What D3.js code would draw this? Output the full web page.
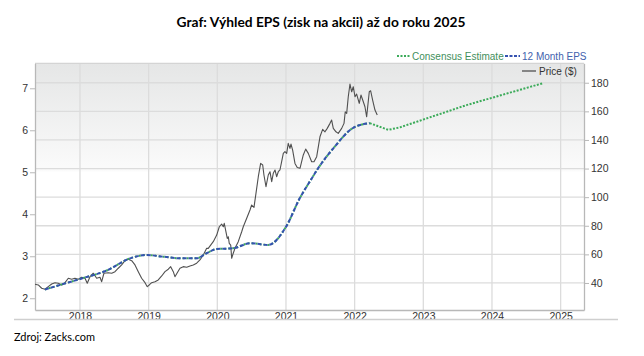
<!DOCTYPE html>
<html>
<head>
<meta charset="utf-8">
<script src="https://cdn.jsdelivr.net/npm/d3@7"></script>
<style>
  html, body { margin: 0; padding: 0; background: #fff; }
  svg { display: block; }
</style>
</head>
<body>
<svg id="chart" width="644" height="356"></svg>
<script>
// ---- data ----
const titleText = "Graf: Výhled EPS (zisk na akcii) až do roku 2025";
const sourceText = "Zdroj: Zacks.com";
const yearTicks = [2018, 2019, 2020, 2021, 2022, 2023, 2024, 2025];
const epsTicks = [2, 3, 4, 5, 6, 7];
const priceTicks = [40, 60, 80, 100, 120, 140, 160, 180];

const priceDates = [2017.345,2017.393,2017.442,2017.490,2017.538,2017.588,2017.636,2017.684,2017.734,2017.782,2017.830,2017.879,2017.927,2017.975,2018.025,2018.073,2018.106,2018.146,2018.194,2018.243,2018.291,2018.316,2018.349,2018.412,2018.462,2018.510,2018.558,2018.607,2018.655,2018.703,2018.753,2018.801,2018.849,2018.898,2018.947,2018.980,2019.009,2019.044,2019.092,2019.140,2019.190,2019.238,2019.286,2019.321,2019.359,2019.383,2019.417,2019.456,2019.504,2019.554,2019.602,2019.650,2019.699,2019.747,2019.796,2019.845,2019.868,2019.941,2019.991,2020.029,2020.063,2020.087,2020.101,2020.126,2020.145,2020.160,2020.174,2020.195,2020.209,2020.232,2020.257,2020.305,2020.355,2020.378,2020.428,2020.476,2020.500,2020.534,2020.563,2020.597,2020.631,2020.661,2020.679,2020.709,2020.742,2020.767,2020.792,2020.815,2020.840,2020.864,2020.888,2020.912,2020.937,2020.961,2020.985,2021.010,2021.033,2021.058,2021.073,2021.097,2021.131,2021.164,2021.204,2021.252,2021.287,2021.325,2021.374,2021.408,2021.447,2021.495,2021.534,2021.568,2021.601,2021.641,2021.665,2021.689,2021.728,2021.761,2021.811,2021.845,2021.863,2021.884,2021.907,2021.932,2021.957,2021.980,2022.005,2022.029,2022.067,2022.092,2022.126,2022.150,2022.175,2022.190,2022.213,2022.233,2022.262,2022.296,2022.329];
const priceValues = [39.1,38.6,36.3,35.6,37.4,39.3,40.2,39.8,38.6,40.2,43.3,42.6,43.3,42.6,44.0,43.3,39.8,44.4,46.8,43.3,44.0,40.9,46.8,47.2,46.8,47.9,50.3,52.6,55.6,56.6,55.6,52.6,47.9,43.3,40.2,37.4,38.6,40.2,40.9,42.1,44.9,47.9,49.6,51.4,47.9,44.4,47.2,50.3,51.4,51.0,51.9,52.6,53.8,56.1,59.6,64.2,64.2,68.9,73.5,79.3,81.2,79.3,81.7,75.8,71.2,72.3,67.7,66.5,57.3,60.8,64.2,68.9,75.8,79.3,85.2,91.0,94.5,92.9,102.7,114.3,123.6,122.5,115.5,107.3,115.5,117.8,110.8,116.7,119.0,114.3,117.8,119.0,124.8,130.6,131.8,130.6,137.6,134.1,137.1,132.9,123.6,120.8,120.2,129.5,133.6,130.6,124.8,124.8,128.3,142.2,147.4,145.7,148.1,151.6,153.9,148.1,145.7,144.6,148.1,151.6,159.7,158.6,170.2,179.1,173.7,177.2,170.2,172.1,165.6,171.4,166.7,163.2,156.2,163.2,173.7,174.4,167.9,160.9,157.4];

const epsDates = [2017.49, 2018.0, 2018.39, 2018.73, 2018.97, 2019.21, 2019.46, 2019.70, 2019.84, 2019.99, 2020.23, 2020.48, 2020.74, 2021.0, 2021.2, 2021.37, 2021.47, 2021.69, 2021.98, 2022.22];
const epsValues = [2.21, 2.46, 2.66, 2.95, 3.03, 2.99, 2.95, 2.95, 3.07, 3.17, 3.19, 3.31, 3.27, 3.70, 4.38, 4.84, 5.10, 5.57, 6.06, 6.17];

const estDates = [2022.22, 2022.49, 2022.66, 2023.63, 2024.74];
const estValues = [6.17, 6.01, 6.07, 6.60, 7.12];

const legendLabels = ["Consensus Estimate", "12 Month EPS", "Price ($)"];

// ---- layout ----
const svg = d3.select("#chart");
const L = 35, R = 584, T = 63.3, B = 310;
const x = d3.scaleLinear().domain([2017.345, 2025.34]).range([L, R]);
const yL = d3.scaleLinear().domain([1.72, 7.595]).range([B, T]);
const yR = d3.scaleLinear().domain([21.1, 193.6]).range([B, T]);

const C_GREEN = "#3cab5a", C_BLUE = "#3552b0", C_PRICE = "#505050";
const FONT = "'Liberation Sans', Arial, sans-serif";

// background gradient
const defs = svg.append("defs");
const grad = defs.append("linearGradient").attr("id", "bg").attr("x1", 0).attr("y1", 0).attr("x2", 0).attr("y2", 1);
grad.append("stop").attr("offset", "0%").attr("stop-color", "#e5e6e6");
grad.append("stop").attr("offset", "100%").attr("stop-color", "#fbfbfb");
svg.append("rect").attr("x", L).attr("y", T).attr("width", R - L).attr("height", B - T).attr("fill", "#fff");
svg.append("rect").attr("x", L).attr("y", T).attr("width", R - L).attr("height", yR(118) - T).attr("fill", "url(#bg)");

// gridlines
svg.append("g").selectAll("line").data(priceTicks).join("line")
  .attr("x1", L).attr("x2", R).attr("y1", d => yR(d)).attr("y2", d => yR(d))
  .attr("stroke", "#dcdcdc").attr("stroke-width", 1.3);
svg.append("g").selectAll("line").data(yearTicks).join("line")
  .attr("x1", d => x(d)).attr("x2", d => x(d)).attr("y1", T).attr("y2", B)
  .attr("stroke", "#dcdcdc").attr("stroke-width", 1.3);
svg.append("line").attr("x1", L).attr("x2", R).attr("y1", T).attr("y2", T).attr("stroke", "#d4d4d4").attr("stroke-width", 1.3);

// axes
function styleAxis(g) {
  g.select(".domain").attr("stroke", "#b8b8b8").attr("stroke-width", 1.3);
  g.selectAll(".tick line").attr("stroke", "#b8b8b8");
  g.selectAll(".tick text").attr("fill", "#333").style("font-family", FONT).style("font-size", "10.5px");
}
svg.append("g").attr("transform", `translate(${L},0)`)
  .call(d3.axisLeft(yL).tickValues(epsTicks).tickFormat(d3.format("d")).tickSize(5).tickPadding(2).tickSizeOuter(0))
  .call(styleAxis);
svg.append("g").attr("transform", `translate(${R},0)`)
  .call(d3.axisRight(yR).tickValues(priceTicks).tickFormat(d3.format("d")).tickSize(5).tickPadding(2).tickSizeOuter(0))
  .call(styleAxis);
const xg = svg.append("g").attr("transform", `translate(0,${B})`)
  .call(d3.axisBottom(x).tickValues(yearTicks).tickFormat(d3.format("d")).tickSize(0).tickPadding(2).tickSizeOuter(0))
  .call(styleAxis);
xg.selectAll(".tick text").attr("dy", "0.72em");

// separator line under axis
svg.append("line").attr("x1", 14).attr("x2", 618).attr("y1", 319.5).attr("y2", 319.5).attr("stroke", "#cfcfcf").attr("stroke-width", 1.3);

// series
const epsPts = epsDates.map((d, i) => [d, epsValues[i]]);
const estPts = estDates.map((d, i) => [d, estValues[i]]);
const pricePts = priceDates.map((d, i) => [d, priceValues[i]]);
const lineL = d3.line().x(d => x(d[0])).y(d => yL(d[1])).curve(d3.curveMonotoneX);
const lineR = d3.line().x(d => x(d[0])).y(d => yR(d[1]));

svg.append("path").datum(pricePts).attr("d", lineR).attr("fill", "none")
  .attr("stroke", C_PRICE).attr("stroke-width", 1.1).attr("stroke-linejoin", "round");
svg.append("path").datum(epsPts).attr("d", lineL).attr("fill", "none")
  .attr("stroke", C_GREEN).attr("stroke-width", 2).attr("stroke-dasharray", "2,2");
svg.append("path").datum(epsPts).attr("d", lineL).attr("fill", "none")
  .attr("stroke", C_BLUE).attr("stroke-width", 2).attr("stroke-dasharray", "4,2");
svg.append("path").datum(estPts).attr("d", d3.line().x(d => x(d[0])).y(d => yL(d[1]))).attr("fill", "none")
  .attr("stroke", C_GREEN).attr("stroke-width", 2).attr("stroke-dasharray", "2,1.5");

// legend
const lg = svg.append("g").style("font-family", FONT).style("font-size", "10px");
lg.append("line").attr("x1", 397).attr("x2", 410).attr("y1", 56).attr("y2", 56)
  .attr("stroke", C_GREEN).attr("stroke-width", 2).attr("stroke-dasharray", "2,1.5");
lg.append("text").attr("x", 412).attr("y", 59.6).attr("fill", "#3f8f5c").text(legendLabels[0]);
lg.append("line").attr("x1", 505).attr("x2", 520).attr("y1", 56).attr("y2", 56)
  .attr("stroke", C_BLUE).attr("stroke-width", 2).attr("stroke-dasharray", "3,1.5");
lg.append("text").attr("x", 522).attr("y", 59.6).attr("fill", "#4262ad").text(legendLabels[1]);
lg.append("line").attr("x1", 522).attr("x2", 536).attr("y1", 71).attr("y2", 71)
  .attr("stroke", C_PRICE).attr("stroke-width", 1.3);
lg.append("text").attr("x", 539).attr("y", 74.6).attr("fill", "#333").text(legendLabels[2]);

// title & source
const t = svg.append("text").attr("x", 321).attr("y", 27).attr("text-anchor", "middle")
  .style("font-family", "Lato, 'Open Sans', sans-serif").style("font-weight", "bold").style("font-size", "13px")
  .attr("fill", "#000").text(titleText);
const tl = t.node().getComputedTextLength();
t.style("font-size", (13 * 289 / tl).toFixed(2) + "px");

const s = svg.append("text").attr("x", 14).attr("y", 340.5)
  .style("font-family", "Lato, 'Open Sans', sans-serif").style("font-size", "12px")
  .attr("fill", "#000").text(sourceText);
const sl = s.node().getComputedTextLength();
s.style("font-size", (12 * 81 / sl).toFixed(2) + "px");
</script>
</body>
</html>
